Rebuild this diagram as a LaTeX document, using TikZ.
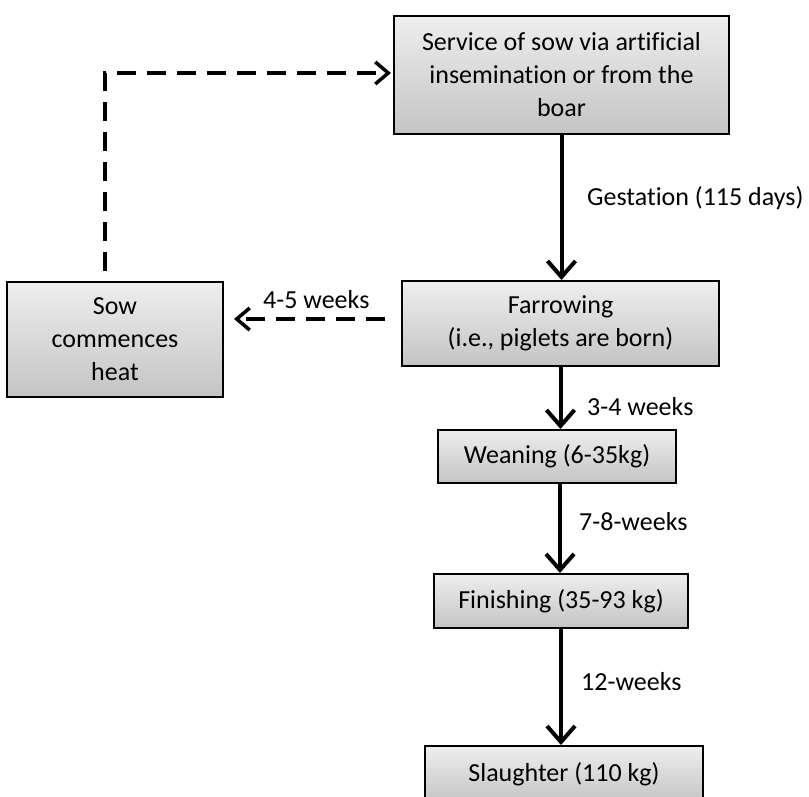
\documentclass[tikz,border=0pt]{standalone}
\usepackage{fontspec}
\setmainfont{Carlito}[Ligatures={NoCommon}]
\usetikzlibrary{arrows.meta}
\definecolor{boxtop}{RGB}{238,238,238}
\definecolor{boxbot}{RGB}{196,196,196}
\begin{document}
\begin{tikzpicture}[x=1pt,y=-1pt,
  stage/.style={draw=black, line width=2pt, top color=boxtop, bottom color=boxbot,
    inner sep=0pt, align=center, font=\fontsize{26}{33}\selectfont},
  flow/.style={line width=4pt, -{Straight Barb[length=16pt,width=28pt]}},
  loopflow/.style={line width=3.5pt, dash pattern=on 19pt off 11pt,
    -{Straight Barb[length=13pt,width=22pt]}},
  lbl/.style={inner sep=0pt, anchor=base west, font=\fontsize{26}{33}\selectfont}]
\useasboundingbox (0,0) rectangle (809,796);

% stages of the production cycle
\node[stage, minimum width=335pt, minimum height=118pt] (service) at (561.5,75)
  {Service of sow via artificial\\insemination or from the\\boar};
\node[stage, minimum width=317pt, minimum height=85pt] (farrow) at (560.5,323.5)
  {Farrowing\\(i.e., piglets are born)};
\node[stage, minimum width=216pt, minimum height=115pt] (sow) at (115,339.5)
  {Sow\\commences\\heat};
\node[stage, minimum width=238pt, minimum height=53pt] (wean) at (557,456.5)
  {Weaning (6-35kg)};
\node[stage, minimum width=254pt, minimum height=54pt] (finish) at (561,601)
  {Finishing (35-93 kg)};
\node[stage, minimum width=278pt, minimum height=56pt] (slaughter) at (564,774)
  {Slaughter (110 kg)};

% main sequence
\draw[flow] (service.south) -- (service.south |- farrow.north);
\draw[flow] (farrow.south) -- (farrow.south |- wean.north);
\draw[flow] ([xshift=3pt]wean.south) -- ([xshift=3pt]wean.south |- finish.north);
\draw[flow] (finish.south) -- (finish.south |- slaughter.north);

% return to heat and re-service
\coordinate (hstart) at ([yshift=4.5pt]farrow.west);
\draw[loopflow, shorten <=16pt, shorten >=10pt] (hstart) -- (hstart -| sow.east);
\coordinate (lstart) at ([xshift=-10pt,yshift=10pt]sow.north);
\draw[loopflow, shorten >=2pt] (lstart) |- ([yshift=2pt]service.west);

% durations
\node[lbl] (tgest) at (587,205) {Gestation (115 days)};
\node[lbl] (twean) at (587,415) {3-4 weeks};
\node[lbl] (tfin) at (579,530) {7-8-weeks};
\node[lbl] (tslau) at (581,690) {12-weeks};
\node[lbl] (theat) at (263,308) {4-5 weeks};
\end{tikzpicture}
\end{document}
